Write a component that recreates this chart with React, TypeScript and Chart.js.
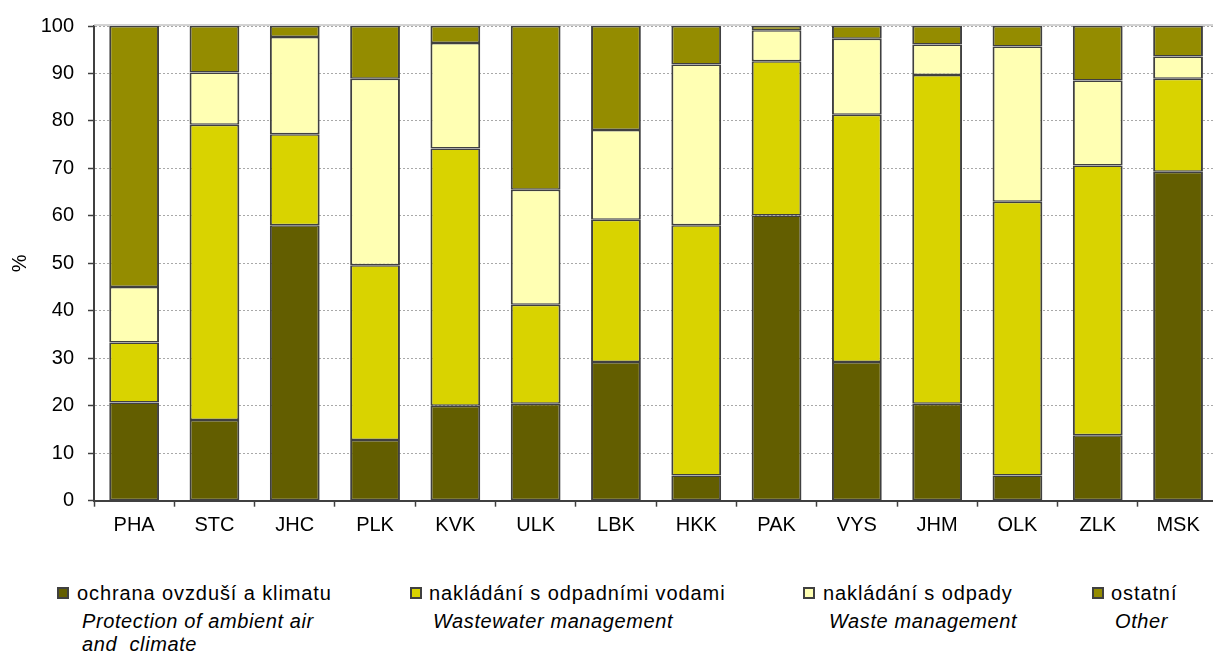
import React, { useEffect, useRef } from "react";
import { Chart, registerables } from "chart.js";

Chart.register(...registerables);

const categories = ["PHA", "STC", "JHC", "PLK", "KVK", "ULK", "LBK", "HKK", "PAK", "VYS", "JHM", "OLK", "ZLK", "MSK"];

const airProtection = [20.7, 17.0, 58.0, 12.8, 20.0, 20.4, 29.2, 5.3, 60.1, 29.2, 20.4, 5.3, 13.8, 69.3];
const wastewater = [12.6, 62.2, 19.2, 36.8, 54.2, 20.9, 30.0, 52.7, 32.5, 52.1, 69.3, 57.7, 56.8, 19.6];
const wasteMgmt = [11.7, 11.0, 20.5, 39.3, 22.2, 24.2, 18.9, 33.9, 6.5, 16.0, 6.4, 32.7, 17.9, 4.7];
const other = [55.0, 9.8, 2.3, 11.1, 3.6, 34.5, 21.9, 8.1, 0.9, 2.7, 3.9, 4.3, 11.5, 6.4];

const yTicks = [0, 10, 20, 30, 40, 50, 60, 70, 80, 90, 100];

const czechLabels = ["ochrana ovzduší a klimatu", "nakládání s odpadními vodami", "nakládání s odpady", "ostatní"];
const englishLabels = ["Protection of ambient air\nand  climate", "Wastewater management", "Waste management", "Other"];
const seriesColors = ["#635E00", "#D9D300", "#FFFFB3", "#948C00"];

const FONT = "'Liberation Sans', Arial, sans-serif";
const BORDER = "#404040";

const legendSquareX = [57, 410, 803, 1092];
const legendTextX = [77, 429, 823, 1111];
const legendEnX = [82, 433, 829, 1115];

export default function App() {
  const canvasRef = useRef<HTMLCanvasElement | null>(null);

  useEffect(() => {
    if (!canvasRef.current) return;
    const series = [airProtection, wastewater, wasteMgmt, other];
    const topLine = {
      id: "topLine",
      beforeDatasetsDraw(chart: any) {
        const { ctx, chartArea } = chart;
        ctx.save();
        ctx.strokeStyle = "#C4C4C4";
        ctx.lineWidth = 1.5;
        ctx.beginPath();
        ctx.moveTo(chartArea.left, chartArea.top - 1);
        ctx.lineTo(chartArea.right, chartArea.top - 1);
        ctx.stroke();
        ctx.restore();
      },
    };
    const chart = new Chart(canvasRef.current, {
      type: "bar",
      data: {
        labels: categories,
        datasets: series.map((d, i) => ({
          label: czechLabels[i],
          data: d,
          backgroundColor: seriesColors[i],
          borderColor: BORDER,
          borderWidth: { top: 1.5, bottom: 1.5, left: 2, right: 2 },
          borderSkipped: false,
          barPercentage: 0.62,
          categoryPercentage: 1,
        })),
      },
      options: {
        responsive: false,
        animation: false,
        devicePixelRatio: 1,
        layout: { padding: { left: 0, top: 24.3, right: 21.8, bottom: 0 } },
        plugins: { legend: { display: false }, tooltip: { enabled: false } },
        scales: {
          x: {
            stacked: true,
            afterFit: (scale: any) => {
              scale.height = 59.3;
            },
            grid: {
              drawOnChartArea: false,
              offset: true,
              tickLength: 6,
              tickColor: BORDER,
              tickWidth: 1.5,
            },
            border: { color: BORDER, width: 2 },
            ticks: { color: "#000", font: { family: FONT, size: 20 }, padding: 7, maxRotation: 0 },
          },
          y: {
            stacked: true,
            min: 0,
            max: 100,
            afterFit: (scale: any) => {
              scale.width = 94;
            },
            afterBuildTicks: (scale: any) => {
              scale.ticks = yTicks.map((v) => ({ value: v }));
            },
            grid: {
              color: "#A8A8A8",
              lineWidth: 1,
              tickLength: 6,
              tickColor: BORDER,
              tickWidth: 1.5,
              tickBorderDash: [],
            },
            border: { color: BORDER, width: 2, dash: [2, 2] },
            ticks: { color: "#000", font: { family: FONT, size: 20 }, padding: 14 },
            title: {
              display: true,
              text: "%",
              color: "#000",
              font: { family: FONT, size: 20 },
              padding: { top: 8, bottom: 0 },
            },
          },
        },
      },
      plugins: [topLine],
    });
    return () => chart.destroy();
  }, []);

  return (
    <div style={{ position: "fixed", left: 0, top: 0, width: 1213, height: 653, overflow: "hidden", background: "#fff" }}>
      <canvas ref={canvasRef} width={1240} height={560} style={{ position: "absolute", left: 0, top: 0 }} />
      {czechLabels.map((t, i) => (
        <React.Fragment key={t}>
          <div
            style={{
              position: "absolute",
              left: legendSquareX[i],
              top: 587,
              width: 12,
              height: 12,
              boxSizing: "border-box",
              border: `2px solid ${BORDER}`,
              background: seriesColors[i],
            }}
          />
          <div
            style={{
              position: "absolute",
              left: legendTextX[i],
              top: 581.6,
              fontFamily: FONT,
              fontSize: 20,
              lineHeight: "23px",
              letterSpacing: "0.9px",
              whiteSpace: "pre",
              color: "#000",
            }}
          >
            {t}
          </div>
          <div
            style={{
              position: "absolute",
              left: legendEnX[i],
              top: 609.6,
              fontFamily: FONT,
              fontSize: 20,
              fontStyle: "italic",
              lineHeight: "23px",
              letterSpacing: "0.6px",
              whiteSpace: "pre",
              color: "#000",
            }}
          >
            {englishLabels[i]}
          </div>
        </React.Fragment>
      ))}
    </div>
  );
}
